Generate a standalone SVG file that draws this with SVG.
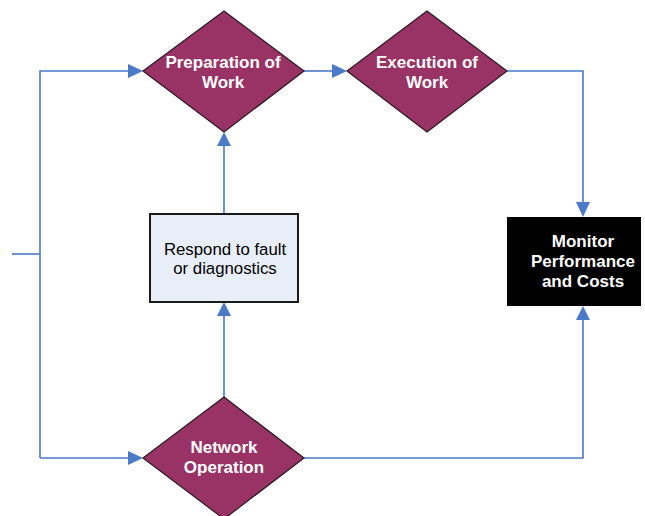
<svg xmlns="http://www.w3.org/2000/svg" width="645" height="516" viewBox="0 0 645 516">
<style>
.dia{fill:#993366;stroke:#2a1a20;stroke-width:1.2}
.wt{fill:#ffffff;font-family:"Liberation Sans",Arial,sans-serif;font-weight:bold;font-size:17px;text-anchor:middle}
.bt{fill:#000000;font-family:"Liberation Sans",Arial,sans-serif;font-size:16.8px;text-anchor:middle}
.ln{fill:none;stroke:#4a7ac8;stroke-width:1.6}
.ah{fill:#4a7ac8}
</style>
<rect width="645" height="516" fill="#ffffff"/>
<g id="connectors">
<path class="ln" d="M12,254 H40"/>
<path class="ln" d="M40,458 V71 H128"/>
<path class="ah" d="M128,64 L143,71 L128,78 Z"/>
<path class="ln" d="M40,458 H128"/>
<path class="ah" d="M128,451 L143,458 L128,465 Z"/>
<path class="ln" d="M304,71 H332"/>
<path class="ah" d="M332,64 L347,71 L332,78 Z"/>
<path class="ln" d="M507,71 H583 V202"/>
<path class="ah" d="M576,202 L583,217 L590,202 Z"/>
<path class="ln" d="M304,458 H583 V320"/>
<path class="ah" d="M576,320 L583,306 L590,320 Z"/>
<path class="ln" d="M224,214 V146"/>
<path class="ah" d="M217,146 L224,132 L231,146 Z"/>
<path class="ln" d="M224,397 V316"/>
<path class="ah" d="M217,316 L224,302 L231,316 Z"/>
</g>
<g id="prep">
<path class="dia" d="M224,11 L304,71 L224,132 L143,71 Z"/>
<text class="wt" x="223" y="68">Preparation of</text>
<text class="wt" x="223" y="88">Work</text>
</g>
<g id="exec">
<path class="dia" d="M427,11 L507,71 L427,132 L347,71 Z"/>
<text class="wt" x="427" y="68">Execution of</text>
<text class="wt" x="427" y="88">Work</text>
</g>
<g id="respond">
<rect x="150" y="214" width="148" height="88" fill="#e8eef8" stroke="#1a1a1a" stroke-width="2"/>
<text class="bt" x="225" y="255">Respond to fault</text>
<text class="bt" x="225" y="274">or diagnostics</text>
</g>
<g id="monitor">
<rect x="507" y="217" width="134" height="89" fill="#000000"/>
<text class="wt" x="583" y="247">Monitor</text>
<text class="wt" x="583" y="267">Performance</text>
<text class="wt" x="583" y="287">and Costs</text>
</g>
<g id="netop">
<path class="dia" d="M224,397 L304,458 L224,519 L143,458 Z"/>
<text class="wt" x="224" y="453">Network</text>
<text class="wt" x="224" y="473">Operation</text>
</g>
</svg>
